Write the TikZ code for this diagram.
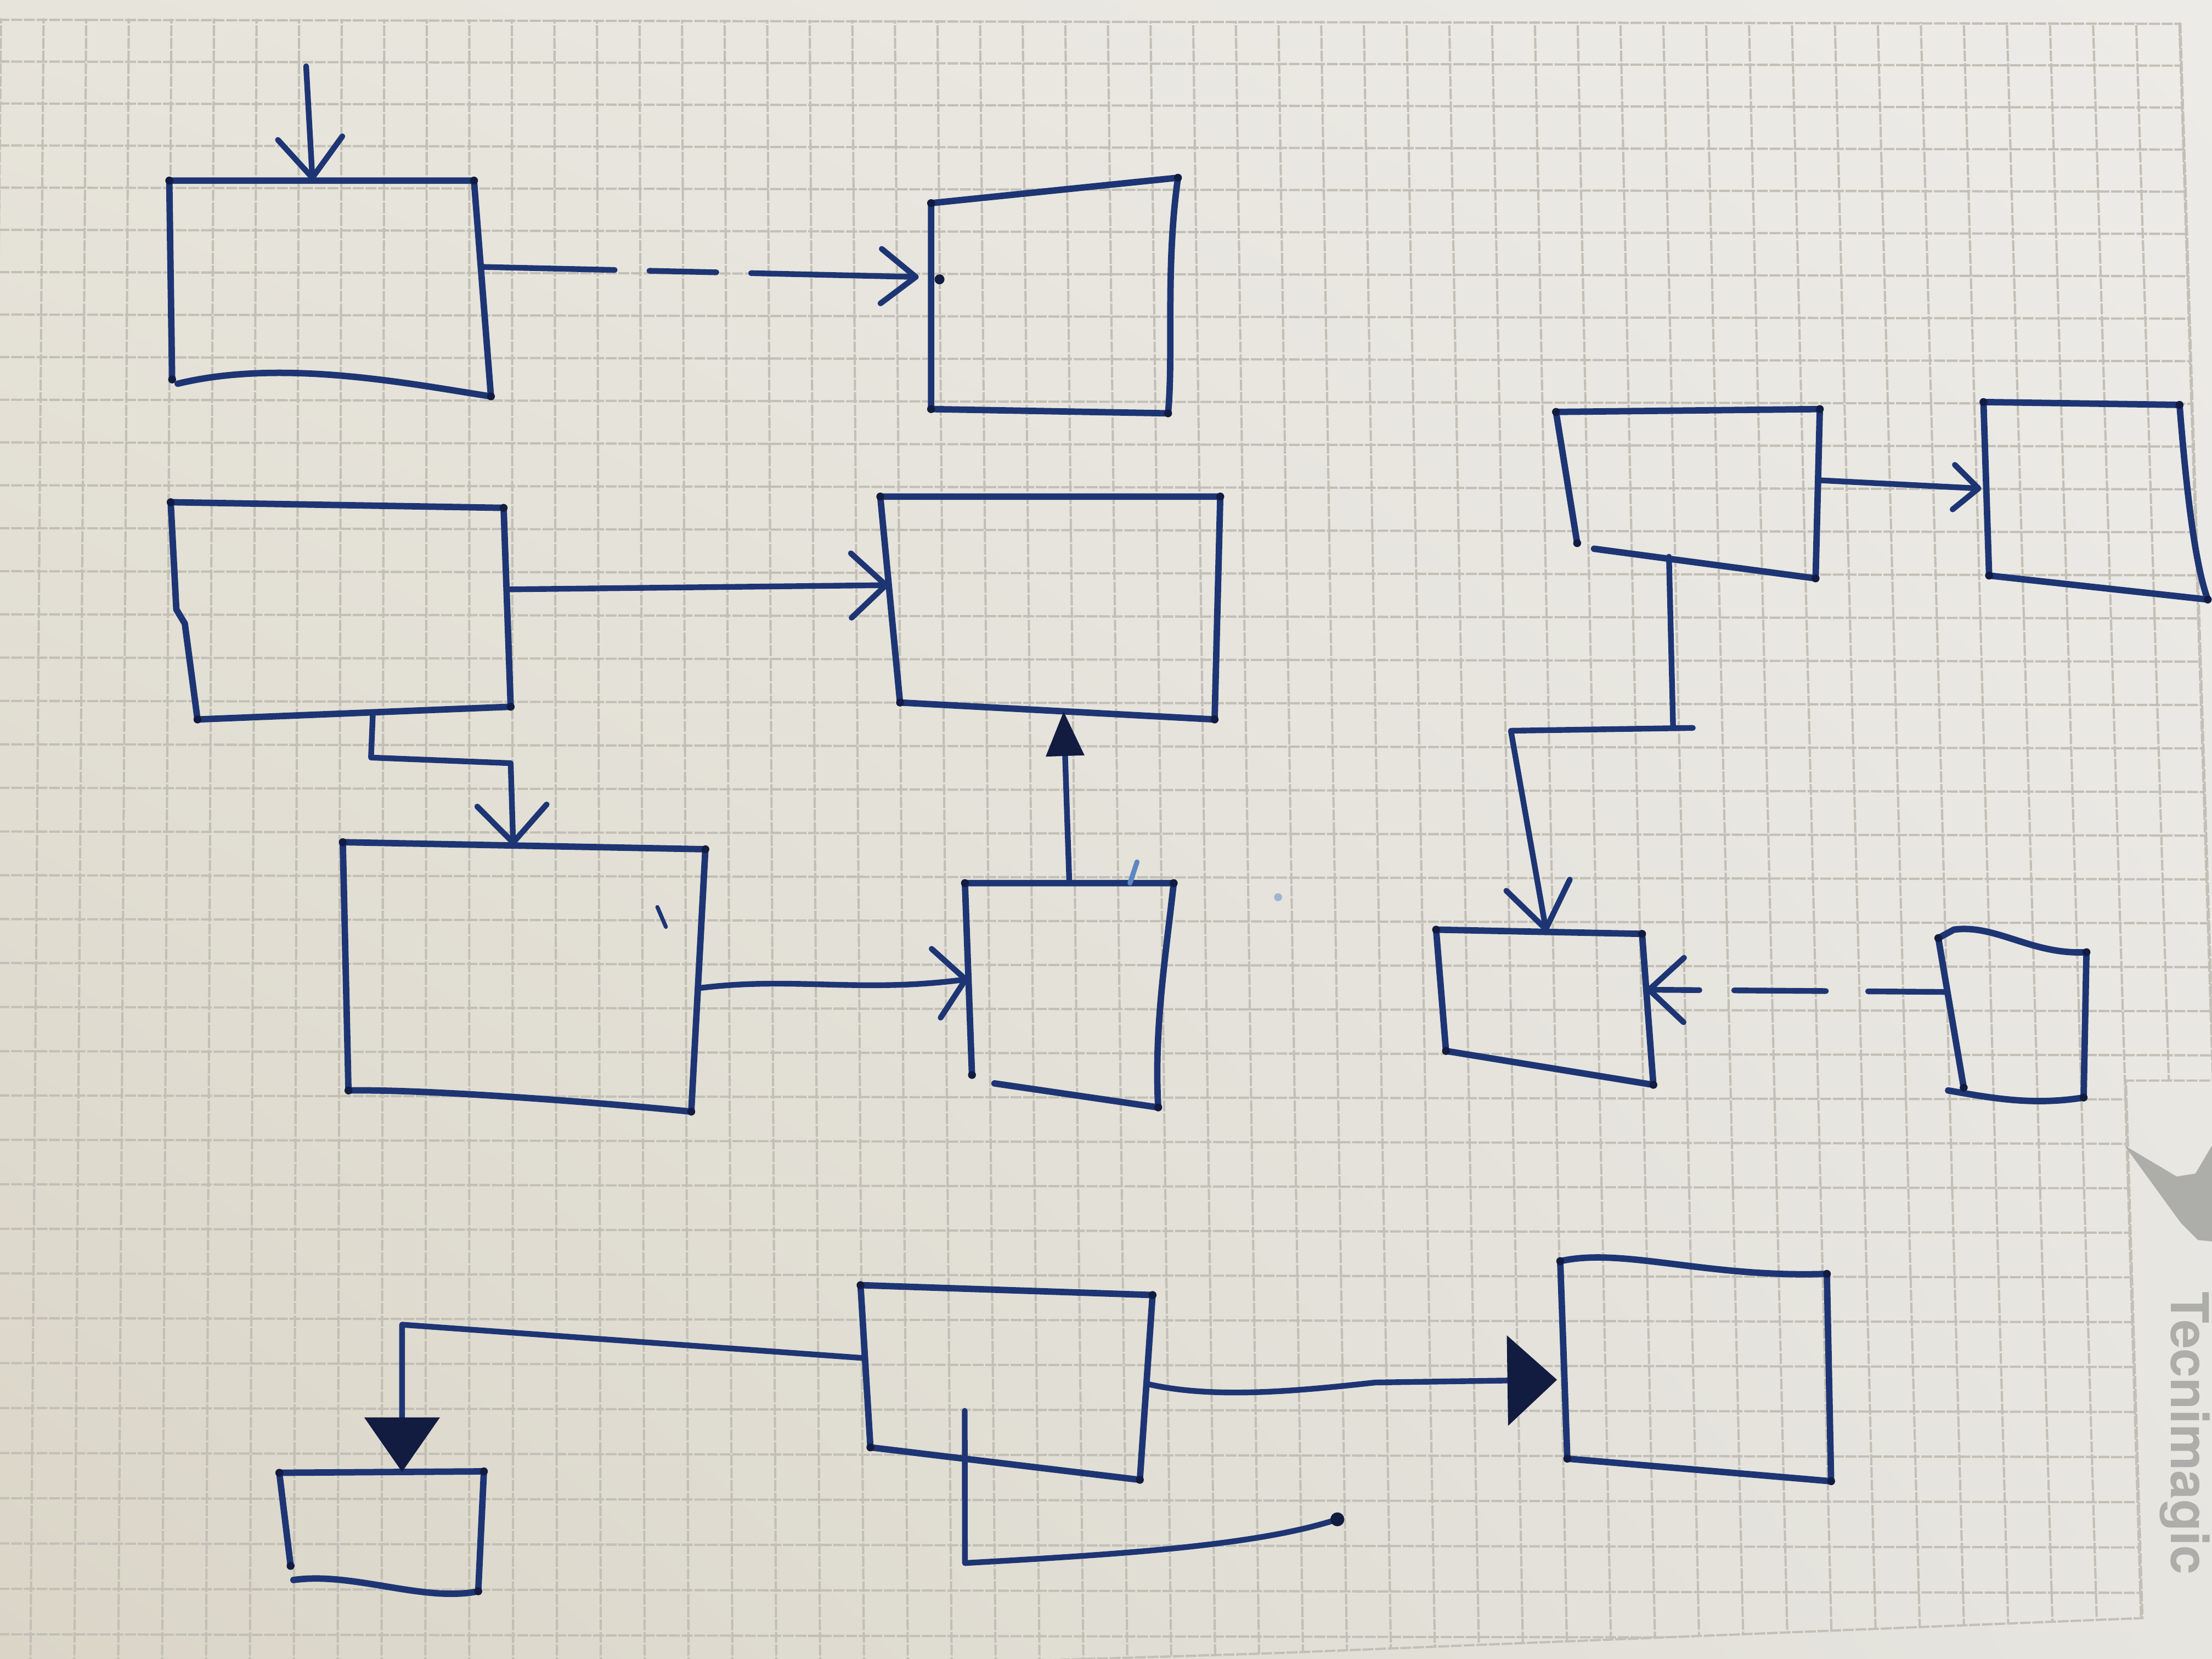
\documentclass[tikz,border=0pt]{standalone}
\usepackage{fontspec}
\newfontfamily\logofont{TeX Gyre Heros}
\usetikzlibrary{arrows.meta,calc,shadings}
\definecolor{ink}{HTML}{1E3574}
\definecolor{inkdark}{HTML}{121B40}
\definecolor{gridc}{HTML}{C2BFB6}
\definecolor{paperTL}{HTML}{E7E4DB}
\definecolor{paperTR}{HTML}{ECEBE7}
\definecolor{paperBL}{HTML}{DAD5C7}
\definecolor{paperBR}{HTML}{E6E5E0}
\definecolor{logoc}{HTML}{ADADAA}
\definecolor{stray}{HTML}{5C86C4}
\tikzset{
  pen/.style={draw=ink,line width=1.3pt,line cap=round,line join=round},
  link/.style={draw=ink,line width=1.15pt,line cap=round,line join=round},
  barb/.style 2 args={-{Straight Barb[length=#1,width=#2,round]}},
  tri/.style 2 args={-{Triangle[length=#1,width=#2,color=inkdark]}},
  gridline/.style={draw=gridc,line width=0.45pt,dash pattern=on 2.2pt off 0.35pt},
}
\begin{document}
\begin{tikzpicture}[x=0.01cm,y=-0.01cm]
\useasboundingbox (0,0) rectangle (1568,1176);
% paper
\shade[upper left=paperTL,upper right=paperTR,lower left=paperBL,lower right=paperBR] (0,0) rectangle (1568,1176);
% grid
\begin{scope}
\clip (-10,13) -- (1545.5,16) -- (1569.5,766) -- (1507,766) -- (1518.7,1147) -- (900,1172) -- (-10,1200) -- cycle;
\foreach \k in {0,...,38}{\pgfmathsetmacro\yy{14+29.6*\k+0.036*\k*\k}\draw[gridline] (-10,\yy) -- (1600,\yy+3);}
\foreach \k in {-1,...,51}{\pgfmathsetmacro\xt{31+30.2*\k-0.004*\k*\k+0.000112*\k*\k*\k}\pgfmathsetmacro\xb{\xt+(-0.008+0.0008*\k)*1200}\draw[gridline] (\xt,0) -- (\xb,1200);}
\end{scope}
\draw[gridline] (1545.5,16) -- (1569.5,766) -- (1507,766) -- (1518.7,1147) -- (900,1172) -- (-10,1200);
% watermark
\fill[logoc] (1506,812) -- (1543,834) -- (1568,830) -- (1568,880) -- (1558,879) -- (1546,867) -- cycle;
\fill[logoc] (1555,834) -- (1568,812) -- (1568,834) -- cycle;
\node[font={\logofont\bfseries\fontsize{10.5pt}{10.5pt}\selectfont},text=logoc,rotate=-90,anchor=base west,inner sep=0pt] (logo) at (1539,915) {Tecnimagic};

% ---------- boxes (corner coordinates) ----------
\coordinate (A-tl) at (120,128); \coordinate (A-tr) at (336,128); \coordinate (A-br) at (348,281); \coordinate (A-bl) at (122,269);
\coordinate (B-tl) at (660,144); \coordinate (B-tr) at (835,126); \coordinate (B-br) at (828,293); \coordinate (B-bl) at (660,290);
\coordinate (C-tl) at (121,356); \coordinate (C-tr) at (357,360); \coordinate (C-br) at (362,501); \coordinate (C-bl) at (140,510);
\coordinate (D-tl) at (624,352); \coordinate (D-tr) at (865,352); \coordinate (D-br) at (861,510); \coordinate (D-bl) at (638,498);
\coordinate (E-tl) at (243,597); \coordinate (E-tr) at (500,602); \coordinate (E-br) at (490,788); \coordinate (E-bl) at (247,773);
\coordinate (F-tl) at (684,626); \coordinate (F-tr) at (832,626); \coordinate (F-br) at (821,785); \coordinate (F-bl) at (689,762);
\coordinate (G-tl) at (1103,292); \coordinate (G-tr) at (1290,290); \coordinate (G-br) at (1287,410); \coordinate (G-bl) at (1118,385);
\coordinate (H-tl) at (1406,285); \coordinate (H-tr) at (1545,287); \coordinate (H-br) at (1565,425); \coordinate (H-bl) at (1410,408);
\coordinate (I-tl) at (1018,659); \coordinate (I-tr) at (1164,662); \coordinate (I-br) at (1172,769); \coordinate (I-bl) at (1025,745);
\coordinate (J-tl) at (1374,665); \coordinate (J-tr) at (1479,675); \coordinate (J-br) at (1477,778); \coordinate (J-bl) at (1392,771);
\coordinate (K-tl) at (610,911); \coordinate (K-tr) at (817,918); \coordinate (K-br) at (808,1049); \coordinate (K-bl) at (617,1026);
\coordinate (L-tl) at (1106,894); \coordinate (L-tr) at (1295,903); \coordinate (L-br) at (1298,1050); \coordinate (L-bl) at (1111,1034);
\coordinate (M-tl) at (198,1044); \coordinate (M-tr) at (343,1043); \coordinate (M-br) at (339,1128); \coordinate (M-bl) at (206,1110);

% ---------- box outlines ----------
\draw[pen] (A-bl) -- (A-tl) -- (A-tr) -- (A-br) .. controls (290,272) and (200,254) .. (126,272);
\draw[pen] (B-bl) -- (B-tl) -- (B-tr) .. controls (826,190) and (832,250) .. (B-br) -- cycle;
\draw[pen] (C-tr) -- (C-tl) -- (125,432) -- (131,442) -- (C-bl) -- (C-br) -- cycle;
\draw[pen] (D-tl) -- (D-tr) -- (D-br) -- (D-bl) -- cycle;
\draw[pen] (E-tl) -- (E-tr) -- (E-br) .. controls (420,781) and (300,772) .. (E-bl) -- cycle;
\draw[pen] (F-bl) -- (F-tl) -- (F-tr) .. controls (826,680) and (818,730) .. (F-br) -- (705,768);
\draw[pen] (G-bl) -- (G-tl) -- (G-tr) -- (G-br) -- (1130,389);
\draw[pen] (H-bl) -- (H-tl) -- (H-tr) .. controls (1550,350) and (1556,400) .. (H-br) -- cycle;
\draw[pen] (I-tl) -- (I-tr) -- (I-br) -- (I-bl) -- cycle;
\draw[pen] (J-bl) -- (J-tl) -- (1385,659) .. controls (1415,655) and (1440,677) .. (J-tr) -- (J-br) .. controls (1440,784) and (1410,778) .. (1381,773);
\draw[pen] (K-tl) -- (K-tr) -- (K-br) -- (K-bl) -- cycle;
\draw[pen] (L-bl) -- (L-tl) .. controls (1150,884) and (1210,906) .. (L-tr) -- (L-br) -- cycle;
\draw[pen] (M-bl) -- (M-tl) -- (M-tr) -- (M-br) .. controls (300,1136) and (250,1114) .. (208,1120);
\foreach \b in {A,B,C,D,E,F,G,H,I,J,K,L,M}{\foreach \c in {tl,tr,br,bl}{\fill[inkdark] (\b-\c) circle (0.8pt);}}

% ---------- connectors ----------
\coordinate (inA) at (217,47);
\draw[link,barb={8pt}{13pt}] (inA) -- ($(A-tl)!0.47!(A-tr)$);

\draw[link,barb={7pt}{11pt},shorten >=2.5pt,dash pattern=on 27pt off 7pt on 13.5pt off 7pt on 90pt] ($(A-tr)!0.4!(A-br)$) -- ($(B-tl)!0.36!(B-bl)$);
\fill[inkdark] (666,198) circle (1pt);

\draw[link,barb={7pt}{13pt}] ($(C-tr)!0.41!(C-br)$) -- ($(D-tl)!0.43!(D-bl)$);

\coordinate (ce1) at (263,537); \coordinate (ce2) at (362,541);
\draw[link,barb={7.5pt}{14pt}] ($(C-bl)!0.56!(C-br)$) -- (ce1) -- (ce2) -- ($(E-tl)!0.47!(E-tr)$);

\draw[link,barb={6pt}{14pt}] ($(E-tr)!0.53!(E-br)$) .. controls (560,692) and (610,704) .. ($(F-tl)!0.5!(F-bl)$);

\draw[link,tri={9pt}{7.5pt}] ($(F-tl)!0.5!(F-tr)$) -- ($(D-bl)!0.52!(D-br)$);

\draw[link,barb={5pt}{9pt},shorten >=1pt] ($(G-tr)!0.42!(G-br)$) -- ($(H-tl)!0.5!(H-bl)$);

\coordinate (gi1) at (1186,516); \coordinate (gi0) at (1200,516); \coordinate (gi2) at (1071,518);
\draw[link] ($(G-bl)!0.385!(G-br)$) -- (gi1);
\draw[link,barb={9pt}{13pt}] (gi0) -- (gi2) -- ($(I-tl)!0.535!(I-tr)$);

\draw[link,barb={7pt}{13pt},dash pattern=on 16pt off 8.5pt on 18.5pt off 7pt on 60pt] ($(J-tl)!0.36!(J-bl)$) -- ($(I-tr)!0.37!(I-br)$);

\coordinate (km1) at (285,939);
\draw[link,tri={11pt}{15pt}] ($(K-tl)!0.45!(K-bl)$) -- (km1) -- ($(M-tl)!0.6!(M-tr)$);

\coordinate (kl1) at (975,980);
\draw[link,tri={10pt}{18pt},shorten >=1.5pt] ($(K-tr)!0.48!(K-br)$) .. controls (860,992) and (920,986) .. (kl1) -- ($(L-tl)!0.6!(L-bl)$);

\coordinate (kd1) at (684,1108); \coordinate (kend) at (948,1077);
\draw[link] ($(K-bl)!0.35!(K-br)+(0,-34)$) -- (kd1) .. controls (790,1102) and (890,1096) .. (kend);
\fill[inkdark] (kend) circle (1.4pt);

% stray ink marks
\draw[link,line width=0.8pt] (466,643) -- (472,657);
\draw[draw=stray,line width=1pt,line cap=round] (806,611) -- (801,626);
\fill[stray,opacity=0.5] (906,636) circle (0.8pt);
\end{tikzpicture}
\end{document}
